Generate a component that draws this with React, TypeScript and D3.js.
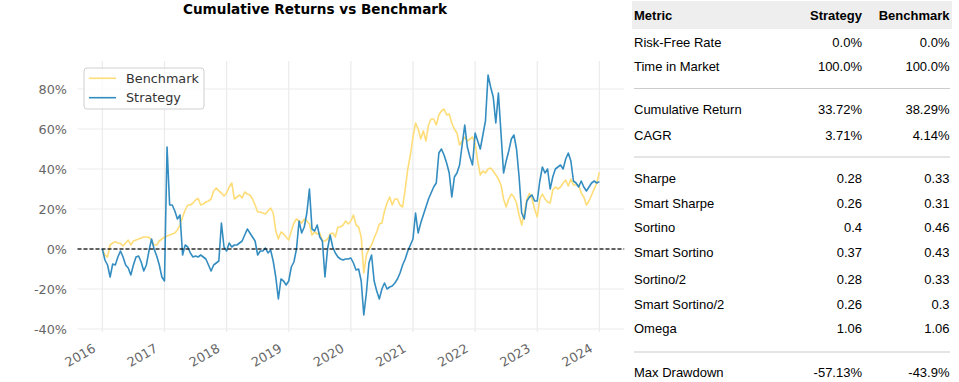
import React from "react";
import * as d3 from "d3";

// ---- data (cumulative return, %) sampled twice a month from 2016-01 to 2024-01
const START_YEAR = 2016;
const STEPS_PER_YEAR = 24;

const STRATEGY = [
  0, -5.5, -8, -14, -7.5, -8, -4, -1, -4, -8, -9.5, -13, -8, -4, -3.5, -6.5, -11, -8, -1, 5, 0, -3.5, -8, -14,
  -16, 51, 22, 22, 19, 15, 17, -3, 2, 1, -2, -4, -3.5, -4, -3, -4, -5, -8, -11, -8, -7, -6, 13, 1,
  -1, 3, 1, 2, 2, 3, 4, 7, 10, 8, 6, 4, -3, -1, -1, 0.5, -2, -0.5, -6, -14, -25, -15, -16, -18,
  -16, -9, -6.5, 0, 14, 8, 11, 18, 30, 10, 9, 12, 6, 4, -14, 0, 7, 1, -2, -4, -5, -5.5, -5, -5,
  -4.5, -7, -10.5, -10, -16, -33, -22, -7, -3, -16, -21, -25, -20, -17, -20, -19, -18.5, -17, -15, -12, -8, -5, -1, 2,
  5, 18, 8, 13, 17, 21, 25, 28, 31, 33, 48, 50, 47, 43, 38, 26, 36, 38, 42, 52, 62, 51, 46, 42,
  58, 54, 50, 57, 64, 87, 81, 76, 63, 78, 58, 38, 44, 49, 55, 57, 50, 36, 18, 15, 24, 26, 27, 24,
  24, 34, 41, 38, 40, 30, 36, 40, 41, 42, 40, 45, 48, 44, 34, 33, 31, 34, 31, 29, 31, 33, 34, 33,
  33.7,
];

const BENCHMARK = [
  0, -3, -4, 2, 3, 3.7, 3, 2.8, 1.5, 3, 4.5, 2, 4, 4.5, 5, 5.5, 6, 6, 5.8, 4.5, 2, 2, 4, 5,
  6, 6.5, 7, 7.5, 8, 9.5, 12, 16, 19.5, 22, 22, 23, 24.5, 25.3, 22, 22.5, 23.5, 24, 25, 29, 30.5, 29, 28, 26.5,
  28, 31, 33, 25, 26, 27, 25.5, 28.5, 27.5, 27, 25, 22, 18.5, 18.5, 18, 17.5, 19, 20.5, 18, 9, 5, 8.5, 7.5, 6,
  4.5, 9, 13, 15, 14, 13, 15, 14, 12.5, 7, 8.5, 7.5, 8, 4, 4, 5, 7.5, 8, 6, 11, 11, 12, 14, 12.5,
  14, 17, 12, 11, 6, -12, -3, 0, 2, 5.5, 8.5, 12.5, 13, 19, 23, 26, 22, 25, 25, 22, 21, 30, 40, 47,
  56, 63, 60, 55, 59, 54, 62, 65, 65, 62, 67, 69, 70, 67, 67.5, 63, 60, 58, 52, 54, 56, 54, 55, 56,
  53, 44, 37, 39, 38, 40, 40.5, 39, 37, 35, 32, 25, 21, 25, 27.5, 26, 23, 17, 12, 18, 25, 27.8, 25, 20,
  16, 25, 27.5, 25, 23.5, 23, 29.5, 31, 30, 31, 33, 34.5, 31.5, 35, 32, 32, 32, 28, 26, 22, 24, 27, 30, 33,
  38.3,
];

const X_TICKS = [2016, 2017, 2018, 2019, 2020, 2021, 2022, 2023, 2024];
const Y_TICKS = [-40, -20, 0, 20, 40, 60, 80];

const SERIES = [
  { name: "Benchmark", values: BENCHMARK, color: "#fedd78" },
  { name: "Strategy", values: STRATEGY, color: "#348dc1" },
];

const TABLE_HEADER = ["Metric", "Strategy", "Benchmark"];
const METRIC_NAMES = [
  "Risk-Free Rate", "Time in Market", "Cumulative Return", "CAGR", "Sharpe", "Smart Sharpe",
  "Sortino", "Smart Sortino", "Sortino/2", "Smart Sortino/2", "Omega", "Max Drawdown",
];
const METRIC_STRATEGY = ["0.0%", "100.0%", "33.72%", "3.71%", "0.28", "0.26", "0.4", "0.37", "0.28", "0.26", "1.06", "-57.13%"];
const METRIC_BENCHMARK = ["0.0%", "100.0%", "38.29%", "4.14%", "0.33", "0.31", "0.46", "0.43", "0.33", "0.3", "1.06", "-43.9%"];
const ROW_BASELINES = [46.5, 71, 114, 140, 183, 207.7, 232.3, 256.7, 283.7, 308.5, 333.2, 377];
const SEPARATORS = [88.5, 157, 352];

const W = 959;
const H = 382;
const PLOT = { left: 77.5, right: 624.2, top: 61, bottom: 332 };

export default function App() {
  const x = d3.scaleLinear().domain([2015.6, 2024.4]).range([PLOT.left, PLOT.right]);
  const y = d3.scaleLinear().domain([-41.5, 94]).range([PLOT.bottom, PLOT.top]);
  const line = d3
    .line<number>()
    .x((_, i) => x(START_YEAR + i / STEPS_PER_YEAR))
    .y((d) => y(d));

  const chartFont = "DejaVu Sans, sans-serif";
  const tableFont = "Liberation Sans, Arial, sans-serif";

  return (
    <svg
      width={W}
      height={H}
      style={{ position: "absolute", left: 0, top: 0, display: "block", background: "#fff" }}
    >
      <rect x={0} y={0} width={W} height={H} fill="#fff" />
      {/* title */}
      <text x={315} y={14} textAnchor="middle" fontFamily={chartFont} fontWeight="bold" fontSize={13.6} fill="#000">
        Cumulative Returns vs Benchmark
      </text>

      {/* grid */}
      {Y_TICKS.map((t) => (
        <line key={"hy" + t} x1={PLOT.left} x2={PLOT.right} y1={y(t)} y2={y(t)} stroke="#ebebeb" strokeWidth={1.2} />
      ))}
      {X_TICKS.map((t) => (
        <line key={"vx" + t} x1={x(t)} x2={x(t)} y1={PLOT.top} y2={PLOT.bottom} stroke="#ebebeb" strokeWidth={1.2} />
      ))}

      {/* y tick labels */}
      {Y_TICKS.map((t) => (
        <text key={"yl" + t} x={67} y={y(t) + 4.5} textAnchor="end" fontFamily={chartFont} fontSize={12.8} fill="#666">
          {t}%
        </text>
      ))}
      {/* x tick labels */}
      {X_TICKS.map((t) => (
        <text
          key={"xl" + t}
          x={0}
          y={0}
          transform={`translate(${x(t) - 5.8},351) rotate(-30)`}
          textAnchor="end"
          fontFamily={chartFont}
          fontSize={12.8}
          fill="#666"
        >
          {t}
        </text>
      ))}

      {/* series */}
      {SERIES.map((s) => (
        <path key={s.name} d={line(s.values) || ""} fill="none" stroke={s.color} strokeWidth={1.6} strokeLinejoin="round" />
      ))}

      {/* zero line */}
      <line x1={PLOT.left} x2={PLOT.right} y1={y(0)} y2={y(0)} stroke="#000" strokeOpacity={0.8} strokeWidth={1.3} strokeDasharray="4,2" />

      {/* legend */}
      <rect x={84} y={68} width={120} height={41} rx={3} fill="#fff" fillOpacity={0.8} stroke="#d0d0d0" strokeWidth={1} />
      {SERIES.map((s, i) => (
        <g key={"lg" + s.name}>
          <line x1={89} x2={116} y1={78.3 + i * 19.4} y2={78.3 + i * 19.4} stroke={s.color} strokeWidth={1.6} />
          <text x={126} y={82.8 + i * 19.4} fontFamily={chartFont} fontSize={12.8} fill="#333">
            {s.name}
          </text>
        </g>
      ))}

      {/* table */}
      <rect x={632} y={1} width={320} height={28} fill="#eeeeee" />
      <text x={634} y={19.5} fontFamily={tableFont} fontWeight="bold" fontSize={13} fill="#000">{TABLE_HEADER[0]}</text>
      <text x={862} y={19.5} textAnchor="end" fontFamily={tableFont} fontWeight="bold" fontSize={13} fill="#000">{TABLE_HEADER[1]}</text>
      <text x={949.5} y={19.5} textAnchor="end" fontFamily={tableFont} fontWeight="bold" fontSize={13} fill="#000">{TABLE_HEADER[2]}</text>
      {METRIC_NAMES.map((m, i) => (
        <g key={m}>
          <text x={634} y={ROW_BASELINES[i]} fontFamily={tableFont} fontSize={13} fill="#000">{m}</text>
          <text x={862} y={ROW_BASELINES[i]} textAnchor="end" fontFamily={tableFont} fontSize={13} fill="#000">{METRIC_STRATEGY[i]}</text>
          <text x={949.5} y={ROW_BASELINES[i]} textAnchor="end" fontFamily={tableFont} fontSize={13} fill="#000">{METRIC_BENCHMARK[i]}</text>
        </g>
      ))}
      {SEPARATORS.map((s) => (
        <line key={"sep" + s} x1={634} x2={950} y1={s} y2={s} stroke="#cccccc" strokeWidth={1.2} />
      ))}
    </svg>
  );
}
